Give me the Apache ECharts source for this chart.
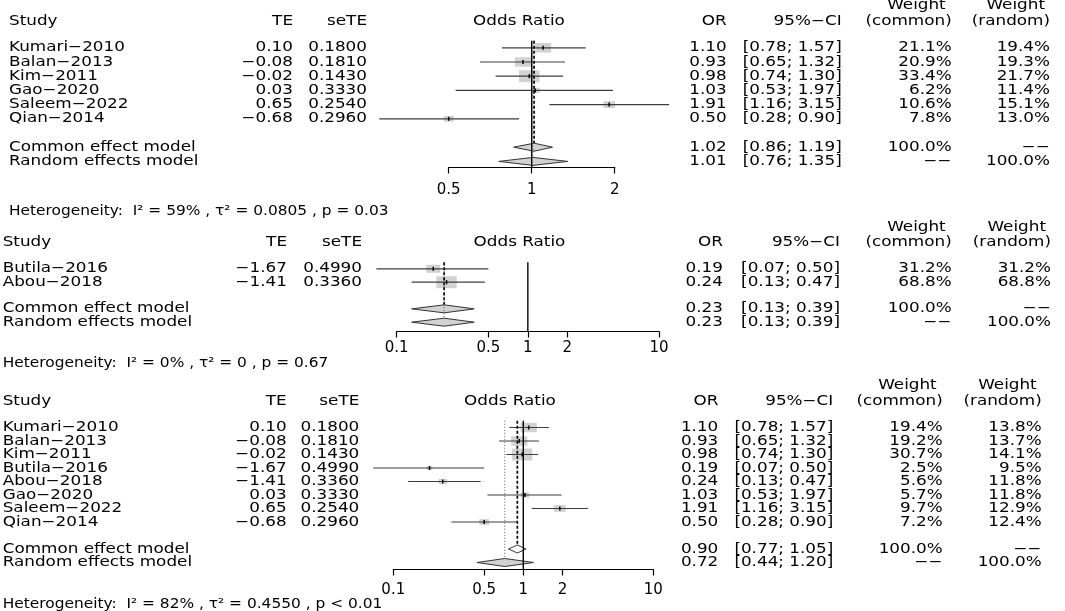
<!DOCTYPE html>
<html>
<head>
<meta charset="utf-8">
<script src="https://cdn.jsdelivr.net/npm/echarts@6/dist/echarts.min.js"></script>
<style>
html, body { margin: 0; padding: 0; background: #fff; }
#chart { width: 1065px; height: 611px; }
</style>
</head>
<body>
<div id="chart"></div>
<script>
// --- panel 1 ---
var p1Studies = ['Kumari\u22122010', 'Balan\u22122013', 'Kim\u22122011', 'Gao\u22122020', 'Saleem\u22122022', 'Qian\u22122014'];
var p1TE = [0.10, -0.08, -0.02, 0.03, 0.65, -0.68];
var p1SeTE = [0.1800, 0.1810, 0.1430, 0.3330, 0.2540, 0.2960];
var p1OR = [1.10, 0.93, 0.98, 1.03, 1.91, 0.50];
var p1Lower = [0.78, 0.65, 0.74, 0.53, 1.16, 0.28];
var p1Upper = [1.57, 1.32, 1.30, 1.97, 3.15, 0.90];
var p1WCommon = [21.1, 20.9, 33.4, 6.2, 10.6, 7.8];
var p1WRandom = [19.4, 19.3, 21.7, 11.4, 15.1, 13.0];
var p1Common = [1.02, 0.86, 1.19];
var p1Random = [1.01, 0.76, 1.35];
var p1Ticks = [0.5, 1, 2];
var p1Het = 'Heterogeneity:  I\u00b2 = 59% , \u03c4\u00b2 = 0.0805 , p = 0.03';

// --- panel 2 ---
var p2Studies = ['Butila\u22122016', 'Abou\u22122018'];
var p2TE = [-1.67, -1.41];
var p2SeTE = [0.4990, 0.3360];
var p2OR = [0.19, 0.24];
var p2Lower = [0.07, 0.13];
var p2Upper = [0.50, 0.47];
var p2WCommon = [31.2, 68.8];
var p2WRandom = [31.2, 68.8];
var p2Common = [0.23, 0.13, 0.39];
var p2Random = [0.23, 0.13, 0.39];
var p2Ticks = [0.1, 0.5, 1, 2, 10];
var p2Het = 'Heterogeneity:  I\u00b2 = 0% , \u03c4\u00b2 = 0 , p = 0.67';

// --- panel 3 ---
var p3Studies = ['Kumari\u22122010', 'Balan\u22122013', 'Kim\u22122011', 'Butila\u22122016', 'Abou\u22122018', 'Gao\u22122020', 'Saleem\u22122022', 'Qian\u22122014'];
var p3TE = [0.10, -0.08, -0.02, -1.67, -1.41, 0.03, 0.65, -0.68];
var p3SeTE = [0.1800, 0.1810, 0.1430, 0.4990, 0.3360, 0.3330, 0.2540, 0.2960];
var p3OR = [1.10, 0.93, 0.98, 0.19, 0.24, 1.03, 1.91, 0.50];
var p3Lower = [0.78, 0.65, 0.74, 0.07, 0.13, 0.53, 1.16, 0.28];
var p3Upper = [1.57, 1.32, 1.30, 0.50, 0.47, 1.97, 3.15, 0.90];
var p3WCommon = [19.4, 19.2, 30.7, 2.5, 5.6, 5.7, 9.7, 7.2];
var p3WRandom = [13.8, 13.7, 14.1, 9.5, 11.8, 11.8, 12.9, 12.4];
var p3Common = [0.90, 0.77, 1.05];
var p3Random = [0.72, 0.44, 1.20];
var p3Ticks = [0.1, 0.5, 1, 2, 10];
var p3Het = 'Heterogeneity:  I\u00b2 = 82% , \u03c4\u00b2 = 0.4550 , p < 0.01';

var FONT = 'DejaVu Sans';
var SX = 1.2;
var BOX = '#d2d2d2';

// layout of each panel (pixels)
var layouts = [
    { row0: 47.8, step: 14.2, baseY: 167.5, x0: 448.7, x1: 614.7, labelMargin: 15,
      headY: 21, hetY: 211.5, orMid: 519, commonFill: BOX,
      cols: { study: 9, te: 293, se: 367, or: 726.7, ci: 841.7, wc: 951.7, wr: 1050 } },
    { row0: 268.8, step: 13.35, baseY: 331.5, x0: 396.7, x1: 659, labelMargin: 9.5,
      headY: 242.8, hetY: 363.3, orMid: 519.5, commonFill: BOX,
      cols: { study: 2.7, te: 287, se: 362, or: 723, ci: 840, wc: 951.7, wr: 1051 } },
    { row0: 427.5, step: 13.5, baseY: 569.5, x0: 393.3, x1: 653.3, labelMargin: 13,
      headY: 401.2, hetY: 604.3, orMid: 510, commonFill: '#fff',
      cols: { study: 2.7, te: 286.7, se: 359.3, or: 718.3, ci: 833.3, wc: 942.7, wr: 1041.7 } }
];

var panels = [
    { studies: p1Studies, te: p1TE, se: p1SeTE, or: p1OR, lower: p1Lower, upper: p1Upper,
      wCommon: p1WCommon, wRandom: p1WRandom, common: p1Common, random: p1Random, ticks: p1Ticks, het: p1Het },
    { studies: p2Studies, te: p2TE, se: p2SeTE, or: p2OR, lower: p2Lower, upper: p2Upper,
      wCommon: p2WCommon, wRandom: p2WRandom, common: p2Common, random: p2Random, ticks: p2Ticks, het: p2Het },
    { studies: p3Studies, te: p3TE, se: p3SeTE, or: p3OR, lower: p3Lower, upper: p3Upper,
      wCommon: p3WCommon, wRandom: p3WRandom, common: p3Common, random: p3Random, ticks: p3Ticks, het: p3Het }
];

function fmt(v, d) {
    return v.toFixed(d).replace('-', '\u2212');
}

function txt(x, y, s, align, sx) {
    return {
        type: 'text', x: x, y: y, scaleX: sx || SX, silent: true,
        style: { text: s, x: 0, y: 0, align: align, verticalAlign: 'middle',
                 fontSize: 14, fontFamily: FONT, fill: '#000' }
    };
}

var grids = [], xAxes = [], yAxes = [], series = [], graphics = [];

panels.forEach(function(p, k) {
    var L = layouts[k];
    var c = L.cols;
    var n = p.studies.length;
    var top = L.row0 - 0.5 * L.step;
    var yMax = (L.baseY - L.row0) / L.step;
    var wMax = Math.max.apply(null, p.wCommon);
    var tickVals = p.ticks.map(Math.log10);

    grids.push({ left: L.x0, width: L.x1 - L.x0, top: top, height: L.baseY - top });

    xAxes.push({
        gridIndex: k, type: 'value', position: 'bottom',
        min: tickVals[0], max: tickVals[tickVals.length - 1],
        axisLine: { show: true, onZero: false, lineStyle: { color: '#000', width: 1.2 } },
        axisTick: { show: true, length: 6, customValues: tickVals, lineStyle: { color: '#000', width: 1.2 } },
        axisLabel: {
            customValues: tickVals, margin: L.labelMargin, color: '#000',
            fontSize: 15, fontFamily: FONT,
            formatter: function(v) { return String(+Math.pow(10, v).toPrecision(2)); }
        },
        splitLine: { show: false }
    });

    yAxes.push({ gridIndex: k, type: 'value', inverse: true, min: -0.5, max: yMax, show: false });

    // one item per row: [row, log OR, log lower, log upper, kind]
    var rows = [];
    p.studies.forEach(function(s, i) {
        rows.push([i, Math.log10(p.or[i]), Math.log10(p.lower[i]), Math.log10(p.upper[i]), 0]);
    });
    rows.push([n + 1, Math.log10(p.common[0]), Math.log10(p.common[1]), Math.log10(p.common[2]), 1]);
    rows.push([n + 2, Math.log10(p.random[0]), Math.log10(p.random[1]), Math.log10(p.random[2]), 2]);

    series.push({
        type: 'custom', xAxisIndex: k, yAxisIndex: k, clip: false, silent: true,
        data: rows,
        renderItem: function(params, api) {
            var i = params.dataIndex;
            var row = api.value(0), kind = api.value(4);
            var pE = api.coord([api.value(1), row]);
            var pL = api.coord([api.value(2), row]);
            var pH = api.coord([api.value(3), row]);
            var y = pE[1];
            var kids = [];
            if (kind === 0) {
                var h = 12 * Math.sqrt(p.wCommon[i] / wMax);
                var w = h * 1.7;
                kids.push({ type: 'rect', shape: { x: pE[0] - w / 2, y: y - h / 2, width: w, height: h },
                            style: { fill: BOX } });
                kids.push({ type: 'line', shape: { x1: pL[0], y1: y, x2: pH[0], y2: y },
                            style: { stroke: '#3c3c3c', lineWidth: 1.2 } });
                kids.push({ type: 'line', shape: { x1: pE[0], y1: y - 2, x2: pE[0], y2: y + 2 },
                            style: { stroke: '#000', lineWidth: 1.5 } });
                kids.push(txt(c.study, y, p.studies[i], 'left'));
                kids.push(txt(c.te, y, fmt(p.te[i], 2), 'right'));
                kids.push(txt(c.se, y, fmt(p.se[i], 4), 'right'));
                kids.push(txt(c.or, y, fmt(p.or[i], 2), 'right'));
                kids.push(txt(c.ci, y, '[' + fmt(p.lower[i], 2) + '; ' + fmt(p.upper[i], 2) + ']', 'right'));
                kids.push(txt(c.wc, y, fmt(p.wCommon[i], 1) + '%', 'right'));
                kids.push(txt(c.wr, y, fmt(p.wRandom[i], 1) + '%', 'right'));
            } else {
                var est = kind === 1 ? p.common : p.random;
                kids.push({ type: 'polygon',
                            shape: { points: [[pL[0], y], [pE[0], y - 4], [pH[0], y], [pE[0], y + 4]] },
                            style: { fill: kind === 1 ? L.commonFill : BOX, stroke: '#333', lineWidth: 1 } });
                kids.push(txt(c.study, y, kind === 1 ? 'Common effect model' : 'Random effects model', 'left'));
                kids.push(txt(c.or, y, fmt(est[0], 2), 'right'));
                kids.push(txt(c.ci, y, '[' + fmt(est[1], 2) + '; ' + fmt(est[2], 2) + ']', 'right'));
                kids.push(txt(c.wc, y, kind === 1 ? '100.0%' : '\u2212\u2212', 'right'));
                kids.push(txt(c.wr, y, kind === 1 ? '\u2212\u2212' : '100.0%', 'right'));
            }
            return { type: 'group', children: kids };
        }
    });

    // reference lines: null effect, common estimate, random estimate
    var refs = [
        [0, -0.5, yMax, 0],
        [Math.log10(p.common[0]), -0.5, n + 0.7, 1],
        [Math.log10(p.random[0]), -0.5, n + 1.7, 2]
    ];
    series.push({
        type: 'custom', xAxisIndex: k, yAxisIndex: k, clip: false, silent: true,
        data: refs,
        renderItem: function(params, api) {
            var a = api.coord([api.value(0), api.value(1)]);
            var b = api.coord([api.value(0), api.value(2)]);
            var kind = api.value(3);
            var style = kind === 0 ? { stroke: '#000', lineWidth: 1.4 }
                : kind === 1 ? { stroke: '#000', lineWidth: 1.7, lineDash: [3, 2] }
                : { stroke: '#555', lineWidth: 1, lineDash: [1, 2] };
            return { type: 'line', shape: { x1: a[0], y1: a[1], x2: b[0], y2: b[1] }, style: style };
        }
    });

    var yw = L.headY - 15.5;
    graphics.push(
        txt(c.study, L.headY, 'Study', 'left'),
        txt(c.te, L.headY, 'TE', 'right'),
        txt(c.se, L.headY, 'seTE', 'right'),
        txt(L.orMid, L.headY, 'Odds Ratio', 'center'),
        txt(c.or, L.headY, 'OR', 'right'),
        txt(c.ci, L.headY, '95%\u2212CI', 'right'),
        txt(c.wc - 6, yw, 'Weight', 'right'),
        txt(c.wc, L.headY, '(common)', 'right'),
        txt(c.wr - 5, yw, 'Weight', 'right'),
        txt(c.wr, L.headY, '(random)', 'right'),
        txt(c.study, L.hetY, p.het, 'left', 1.1)
    );
});

var chart = echarts.init(document.getElementById('chart'));
chart.setOption({
    animation: false,
    backgroundColor: '#fff',
    grid: grids,
    xAxis: xAxes,
    yAxis: yAxes,
    series: series,
    graphic: graphics
});
</script>
</body>
</html>
